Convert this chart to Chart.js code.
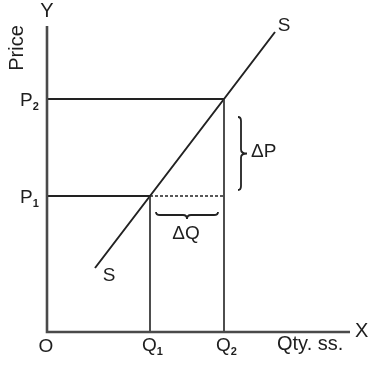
<!DOCTYPE html>
<html lang="en">
<head>
    <meta charset="UTF-8" />
    <title>Supply Curve</title>
    <script src="https://cdn.jsdelivr.net/npm/chart.js"></script>
    <style>
        html, body { margin: 0; padding: 0; background: #fff; }
        #chartContainer { width: 371px; height: 368px; }
    </style>
</head>
<body>

<div id="chartContainer">
    <canvas id="myChart" width="371" height="368"></canvas>
</div>

<script>
    // quantities and prices (arbitrary units, origin O = 0,0)
    const quantities = [10.3, 17.7];          // Q1, Q2
    const prices = [13.6, 23.3];              // P1, P2
    const quantityLabels = ['1', '2'];        // subscripts for Q
    const priceLabels = ['1', '2'];           // subscripts for P
    const axisEnds = [30.3, 30.6];            // end of X axis, end of Y axis
    const supplyX = [4.8, 10.3, 17.7, 22.8];
    const supplyY = [6.4, 13.6, 23.3, 30.0];

    const Q1 = quantities[0], Q2 = quantities[1];
    const P1 = prices[0], P2 = prices[1];

    const lineCol = '#222';
    const textCol = '#1e1e1e';
    const font = '"Liberation Sans", Arial, sans-serif';

    function seg(data, opts) {
        return Object.assign({
            data: data,
            showLine: true,
            borderColor: lineCol,
            borderWidth: 1.8,
            pointRadius: 0,
            fill: false
        }, opts || {});
    }

    // draw a curly brace, tip pointing away from the line (dir = +1 right/down)
    function brace(ctx, horizontal, a, b, c, w, dir) {
        const h = 3 * dir, r = 4, mid = (a + b) / 2;
        const P = (u, v) => horizontal ? [u, v] : [v, u];
        ctx.beginPath();
        ctx.moveTo(...P(a, c));
        ctx.quadraticCurveTo(...P(a, c + h), ...P(a + r, c + h));
        ctx.lineTo(...P(mid - r, c + h));
        ctx.quadraticCurveTo(...P(mid, c + h), ...P(mid, c + w * dir));
        ctx.quadraticCurveTo(...P(mid, c + h), ...P(mid + r, c + h));
        ctx.lineTo(...P(b - r, c + h));
        ctx.quadraticCurveTo(...P(b, c + h), ...P(b, c));
        ctx.stroke();
    }

    function subText(ctx, main, sub, x, y, size) {
        ctx.font = size + 'px ' + font;
        ctx.textAlign = 'left';
        ctx.textBaseline = 'alphabetic';
        ctx.fillText(main, x, y);
        const w = ctx.measureText(main).width;
        ctx.font = 'bold ' + Math.round(size * 0.58) + 'px ' + font;
        ctx.fillText(sub, x + w, y + 4);
    }

    const labelPlugin = {
        id: 'labels',
        afterDatasetsDraw(chart) {
            const ctx = chart.ctx;
            const sx = chart.scales.x, sy = chart.scales.y;
            const ox = sx.getPixelForValue(0), oy = sy.getPixelForValue(0);
            ctx.save();
            ctx.fillStyle = textCol;
            ctx.strokeStyle = lineCol;

            // axis letters
            ctx.font = '20px ' + font;
            ctx.textAlign = 'center';
            ctx.textBaseline = 'alphabetic';
            ctx.fillText('Y', ox, sy.getPixelForValue(axisEnds[1]) - 9);
            ctx.textAlign = 'left';
            ctx.textBaseline = 'middle';
            ctx.fillText('X', sx.getPixelForValue(axisEnds[0]) + 5, oy - 1);
            ctx.textBaseline = 'alphabetic';
            ctx.fillText('Qty. ss.', 277, oy + 18);
            ctx.save();
            ctx.translate(17, 48);
            ctx.rotate(-Math.PI / 2);
            ctx.textAlign = 'center';
            ctx.textBaseline = 'middle';
            ctx.fillText('Price', 0, 0);
            ctx.restore();

            // origin
            ctx.font = '19px ' + font;
            ctx.textAlign = 'center';
            ctx.fillText('O', ox - 1, oy + 20);

            // Q and P labels
            quantities.forEach((q, i) => {
                subText(ctx, 'Q', quantityLabels[i], sx.getPixelForValue(q) - 8, oy + 19, 19);
            });
            prices.forEach((p, i) => {
                subText(ctx, 'P', priceLabels[i], 20, sy.getPixelForValue(p) + 7, 19);
            });

            // supply labels
            ctx.font = '19px ' + font;
            ctx.textAlign = 'center';
            ctx.textBaseline = 'middle';
            const n = supplyX.length - 1;
            ctx.fillText('S', sx.getPixelForValue(supplyX[n]) + 9, sy.getPixelForValue(supplyY[n]) - 6);
            ctx.fillText('S', sx.getPixelForValue(supplyX[0]) + 14, sy.getPixelForValue(supplyY[0]) + 8);

            // braces
            const xq1 = sx.getPixelForValue(Q1), xq2 = sx.getPixelForValue(Q2);
            const yp1 = sy.getPixelForValue(P1), yp2 = sy.getPixelForValue(P2);
            ctx.lineWidth = 1.8;
            brace(ctx, false, yp2 + 18, yp1 - 6, xq2 + 14, 9, 1);
            brace(ctx, true, xq1 + 6, xq2 - 6, yp1 + 16, 7, 1);

            ctx.font = '19px ' + font;
            ctx.textAlign = 'left';
            ctx.fillText('\u0394P', xq2 + 27, (yp1 + yp2) / 2 + 4);
            ctx.textAlign = 'center';
            ctx.fillText('\u0394Q', (xq1 + xq2) / 2 - 1, yp1 + 38);
            ctx.restore();
        }
    };

    document.addEventListener("DOMContentLoaded", function() {
        const ctx = document.getElementById('myChart').getContext('2d');

        new Chart(ctx, {
            type: 'scatter',
            data: {
                datasets: [
                    // axes
                    seg([{x: 0, y: axisEnds[1]}, {x: 0, y: 0}, {x: axisEnds[0], y: 0}],
                        {borderColor: '#4a4a4a', borderWidth: 2.6}),
                    // P2 and P1 guides
                    seg([{x: 0, y: P2}, {x: Q2, y: P2}]),
                    seg([{x: 0, y: P1}, {x: Q1, y: P1}]),
                    seg([{x: Q1, y: P1}, {x: Q2, y: P1}], {borderDash: [3, 2], borderWidth: 1.4}),
                    // Q1 and Q2 guides
                    seg([{x: Q1, y: 0}, {x: Q1, y: P1}], {borderColor: '#3a3a3a'}),
                    seg([{x: Q2, y: 0}, {x: Q2, y: P2}], {borderColor: '#3a3a3a'}),
                    // supply curve
                    seg(supplyX.map((x, i) => ({x: x, y: supplyY[i]})), {borderWidth: 2})
                ]
            },
            options: {
                responsive: false,
                animation: false,
                layout: { padding: 0 },
                plugins: {
                    legend: { display: false },
                    tooltip: { enabled: false }
                },
                scales: {
                    x: { type: 'linear', display: false, min: -4.7, max: 32.4 },
                    y: { type: 'linear', display: false, min: -3.6, max: 33.2 }
                }
            },
            plugins: [labelPlugin]
        });
    });
</script>

</body>
</html>
